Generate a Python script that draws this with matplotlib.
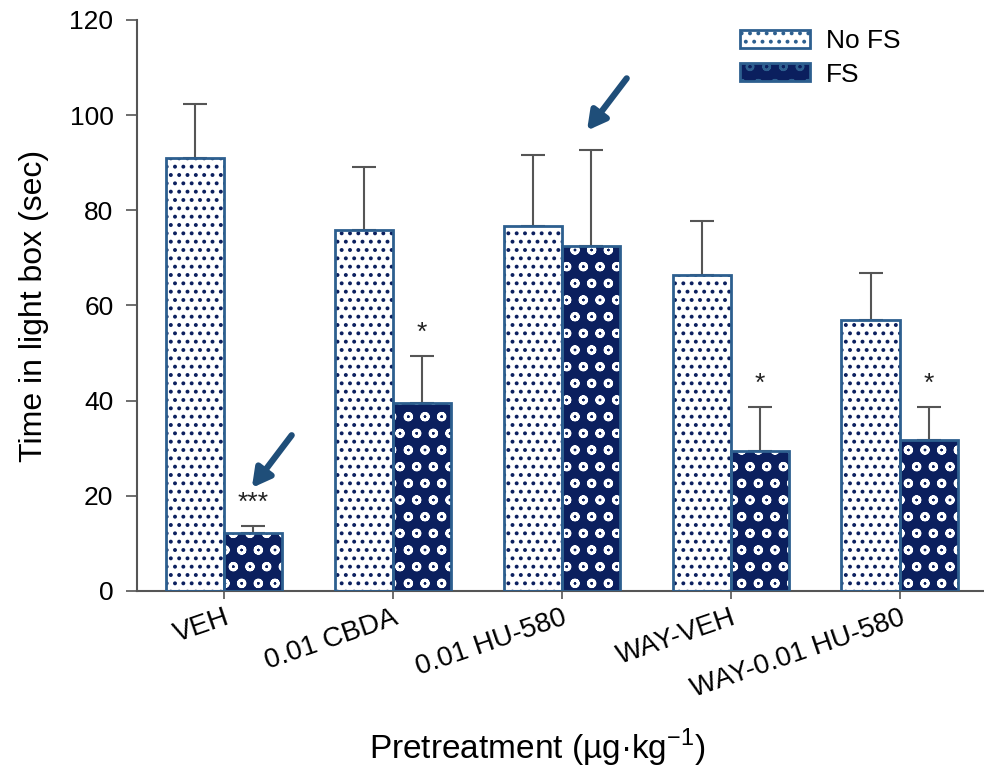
import matplotlib
matplotlib.use("Agg")
import matplotlib.pyplot as plt
import numpy as np
from matplotlib.patches import Patch

categories = ["VEH", "0.01 CBDA", "0.01 HU-580", "WAY-VEH", "WAY-0.01 HU-580"]
nofs_mean = [91.0, 75.9, 76.7, 66.4, 57.0]
nofs_err = [11.4, 13.2, 14.9, 11.4, 9.8]
fs_mean = [12.2, 39.5, 72.5, 29.4, 31.7]
fs_err = [1.5, 9.9, 20.2, 9.3, 7.0]
fs_sig = ["***", "*", "", "*", "*"]

plt.rcParams['font.family'] = ['Liberation Sans', 'DejaVu Sans']
plt.rcParams['hatch.linewidth'] = 1.6

fig = plt.figure(figsize=(9.84, 7.71), dpi=100)
ax = fig.add_axes([137/984, 180/771, (984-137)/984, 571/771])

x = np.arange(len(categories))
w = 0.344
navy = '#0b1f5e'
edge = '#2d5f8f'

def set_hlw(bars, lw):
    for b in bars:
        if hasattr(b, 'set_hatch_linewidth'):
            b.set_hatch_linewidth(lw)

# No FS bars
b1 = ax.bar(x - w/2, nofs_mean, w, facecolor='white', hatch='..', edgecolor=navy, linewidth=0, zorder=2)
set_hlw(b1, 1.6)
ax.bar(x - w/2, nofs_mean, w, fill=False, edgecolor=edge, linewidth=2, zorder=3)
# FS bars
b2 = ax.bar(x + w/2, fs_mean, w, facecolor=navy, hatch='o', edgecolor='white', linewidth=0, zorder=2)
set_hlw(b2, 2.0)
ax.bar(x + w/2, fs_mean, w, fill=False, edgecolor=edge, linewidth=2, zorder=3)

ax.errorbar(x - w/2, nofs_mean, yerr=[np.zeros(5), nofs_err], fmt='none',
            ecolor='#555555', elinewidth=1.5, capsize=8.5, capthick=1.5, zorder=1)
ax.errorbar(x + w/2, fs_mean, yerr=[np.zeros(5), fs_err], fmt='none',
            ecolor='#555555', elinewidth=1.5, capsize=8.5, capthick=1.5, zorder=1)

for xi, m, e, s in zip(x, fs_mean, fs_err, fs_sig):
    if s:
        ax.text(xi + w/2, m + e + 2.3, s, ha='center', va='bottom', fontsize=19, color='#222222')

# legend
h1 = Patch(facecolor='white', hatch='..', edgecolor=edge, linewidth=2)
h2 = Patch(facecolor=navy, hatch='o', edgecolor=edge, linewidth=2)
leg = fig.legend([h1, h2], ["No FS", "FS"], loc='upper left',
                 bbox_to_anchor=(740/984, 1 - 29/771), bbox_transform=fig.transFigure,
                 frameon=False, fontsize=19, handlelength=2.65, handleheight=0.68,
                 labelspacing=0.36, handletextpad=0.6, borderpad=0, borderaxespad=0)

# arrows
arrow_color = '#1f4e79'
ax.annotate('', xy=(0.154, 21.2), xytext=(0.41, 33.2),
            arrowprops=dict(arrowstyle='-|>,head_length=1.1,head_width=0.6', color=arrow_color, lw=4.5))
ax.annotate('', xy=(2.139, 96.3), xytext=(2.394, 108.2),
            arrowprops=dict(arrowstyle='-|>,head_length=1.1,head_width=0.6', color=arrow_color, lw=4.5))

ax.set_xlim(-0.516, 4.50)
ax.set_ylim(0, 120)
ax.set_yticks(range(0, 121, 20))
ax.set_xticks(x)
ax.set_xticklabels(categories, rotation=19, ha='right', rotation_mode='anchor', fontsize=20)
ax.tick_params(axis='y', labelsize=19, length=8, width=1.2, color='#555555', pad=9)
ax.tick_params(axis='x', length=6, width=1.2, color='#555555', pad=4)
for sp in ['top', 'right']:
    ax.spines[sp].set_visible(False)
for sp in ['left', 'bottom']:
    ax.spines[sp].set_color('#555555')
    ax.spines[sp].set_linewidth(1.5)

ax.set_ylabel("Time in light box (sec)", fontsize=23)
ax.yaxis.set_label_coords(-(137 - 34) / 847, (591 - 306) / 571)
ax.yaxis.label.set_va('center')
ax.set_xlabel("Pretreatment (µg·kg$^{\\mathregular{-1}}$)", fontsize=24)
ax.xaxis.set_label_coords((537 - 137) / 847, -(748 - 591) / 571)
ax.xaxis.label.set_va('center')

fig.savefig("out.png", dpi=100)
